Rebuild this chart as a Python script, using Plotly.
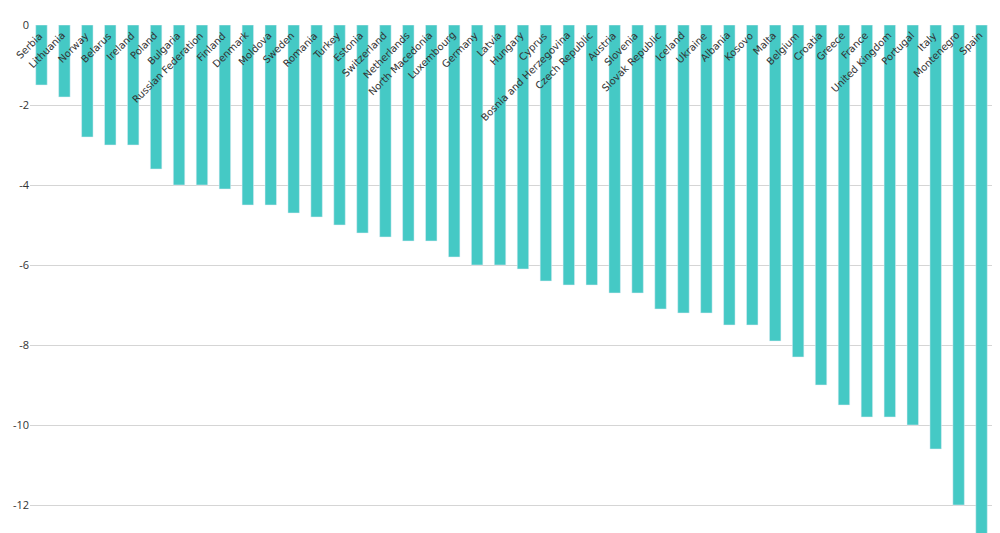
import plotly.graph_objects as go

countries = ["Serbia","Lithuania","Norway","Belarus","Ireland","Poland","Bulgaria","Russian Federation",
 "Finland","Denmark","Moldova","Sweden","Romania","Turkey","Estonia","Switzerland","Netherlands",
 "North Macedonia","Luxembourg","Germany","Latvia","Hungary","Cyprus","Bosnia and Herzegovina",
 "Czech Republic","Austria","Slovenia","Slovak Republic","Iceland","Ukraine","Albania","Kosovo",
 "Malta","Belgium","Croatia","Greece","France","United Kingdom","Portugal","Italy","Montenegro","Spain"]
values = [-1.5,-1.8,-2.8,-3.0,-3.0,-3.6,-4.0,-4.0,-4.1,-4.5,-4.5,-4.7,-4.8,-5.0,-5.2,-5.3,-5.4,-5.4,
 -5.8,-6.0,-6.0,-6.1,-6.4,-6.5,-6.5,-6.7,-6.7,-7.1,-7.2,-7.2,-7.5,-7.5,-7.9,-8.3,-9.0,-9.5,-9.8,
 -9.8,-10.0,-10.6,-12.0,-12.8]
yticks = [0,-2,-4,-6,-8,-10,-12]

fig = go.Figure(go.Bar(x=countries, y=values, marker_color="#45c9c5", width=0.5))
for c in countries:
    fig.add_annotation(x=c, y=0, text=c, textangle=-45, showarrow=False,
                       xanchor="right", yanchor="top", xshift=6, yshift=-2,
                       font=dict(size=10, color="#333", family="DejaVu Sans"))
fig.update_layout(width=1000, height=533, margin=dict(l=22, r=15, t=17, b=0),
                  plot_bgcolor="white", paper_bgcolor="white", showlegend=False)
fig.update_xaxes(showticklabels=False, showgrid=False, zeroline=False, range=[-0.5, 41.5])
fig.update_yaxes(range=[-12.9, 0], tickvals=yticks, ticktext=[str(v) for v in yticks],
                 gridcolor="#d5d5d5", zeroline=False, tickfont=dict(size=11, color="#333"))
fig.write_html("out.html")
